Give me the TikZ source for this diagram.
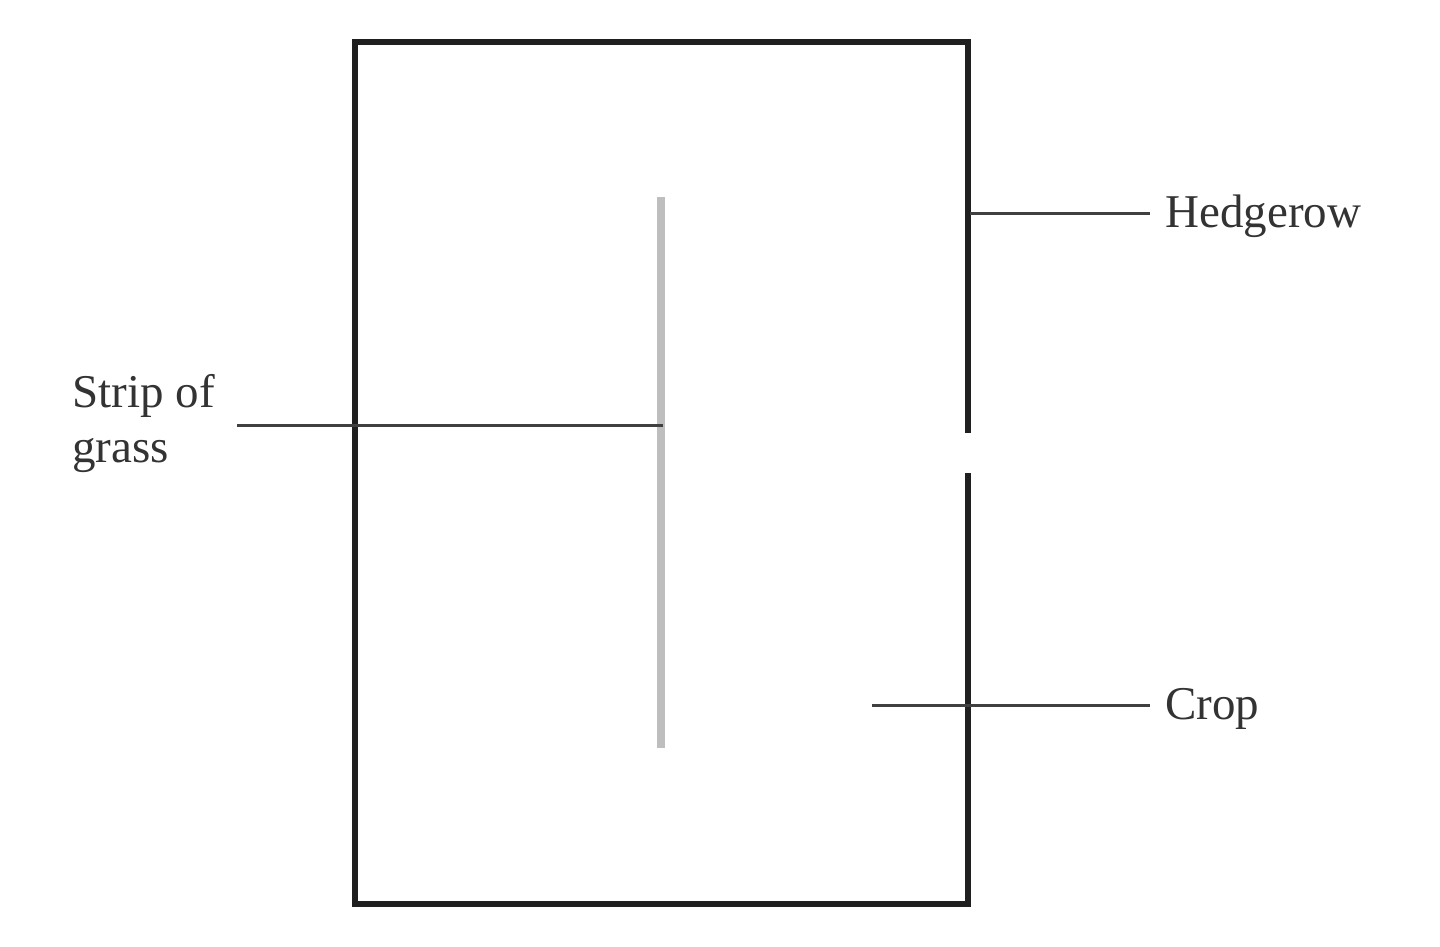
\documentclass[tikz,border=0pt]{standalone}
\usepackage{fontspec}
\setmainfont{Liberation Serif}
\begin{document}
\begin{tikzpicture}[x=0.5pt,y=-0.5pt,
  field/.style={line width=2.6pt,black!88,line join=miter},
  grassstrip/.style={line width=4pt,color={rgb,255:red,190;green,190;blue,190}},
  leader/.style={line width=1.5pt,black!75},
  lbl/.style={inner sep=0pt,font=\fontsize{23.5}{27.5}\selectfont,text=black!80}]
\useasboundingbox (0,0) rectangle (1440,947);
% field boundary with gap in the hedgerow
\draw[field] (968,433) -- (968,42) -- (355,42) -- (355,904) -- (968,904) -- (968,473);
% strip of grass
\coordinate (gtop) at (661,197);
\coordinate (gbot) at (661,748);
\draw[grassstrip] (gtop) -- (gbot);
% labels
\node[lbl,anchor=base west] (hedge) at (1165,227) {Hedgerow};
\node[lbl,anchor=base west] (crop) at (1165,719) {Crop};
\node[lbl,anchor=base west,align=left] (strip) at (72,462) {Strip of\\grass};
% leaders
\coordinate (h1) at (970,213);
\coordinate (h2) at (1150,213);
\draw[leader] (h1) -- (h2);
\coordinate (c1) at (872,705);
\coordinate (c2) at (1150,705);
\draw[leader] (c1) -- (c2);
\coordinate (s1) at (237,425);
\coordinate (s2) at (663,425);
\draw[leader] (s1) -- (s2);
\end{tikzpicture}
\end{document}
